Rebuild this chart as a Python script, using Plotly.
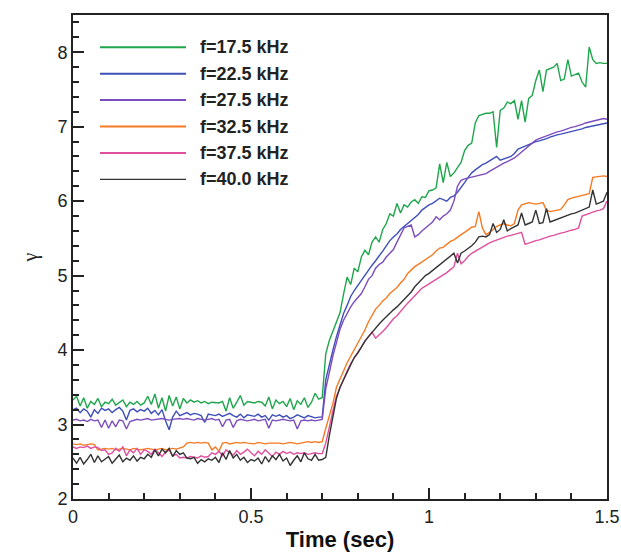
import numpy as np
import plotly.graph_objects as go

# time grid 0.00 .. 1.50 s (step 0.01)
time_s = [round(i * 0.01, 2) for i in range(151)]

names = ["f=17.5 kHz", "f=22.5 kHz", "f=27.5 kHz", "f=32.5 kHz", "f=37.5 kHz", "f=40.0 kHz"]
colors = ["#1fa64c", "#3e4fb8", "#7b4cbc", "#f57a22", "#df4f9e", "#333333"]

g_175 = [
    3.33, 3.38, 3.25, 3.36, 3.22, 3.31, 3.27, 3.35, 3.24, 3.30,
    3.28, 3.34, 3.26, 3.29, 3.33, 3.24, 3.30, 3.27, 3.31, 3.26,
    3.29, 3.38, 3.27, 3.41, 3.22, 3.36, 3.18, 3.39, 3.25, 3.37,
    3.21, 3.35, 3.29, 3.33, 3.30, 3.32, 3.29, 3.31, 3.28, 3.30,
    3.30, 3.29, 3.31, 3.18, 3.36, 3.22, 3.30, 3.39, 3.26, 3.31,
    3.30, 3.29, 3.31, 3.30, 3.25, 3.37, 3.21, 3.33, 3.28, 3.31,
    3.24, 3.35, 3.20, 3.32, 3.27, 3.36, 3.23, 3.30, 3.42, 3.34,
    3.36, 3.95, 4.13, 4.25, 4.38, 4.50, 4.75, 4.98, 4.88, 5.10,
    5.05, 5.25, 5.34, 5.28, 5.45, 5.52, 5.45, 5.62, 5.70, 5.83,
    5.80, 5.97, 5.84, 5.95, 5.92, 5.99, 6.02, 5.97, 6.06, 6.05,
    6.14, 6.15, 6.18, 6.50, 6.25, 6.52, 6.33, 6.38, 6.45, 6.52,
    6.68, 6.75, 6.78, 7.05, 7.15, 7.17, 7.18, 7.18, 7.20, 6.72,
    7.22, 7.25, 7.33, 7.31, 7.35, 7.10, 7.35, 7.06, 7.38, 7.42,
    7.62, 7.76, 7.47, 7.76, 7.78, 7.80, 7.85, 7.62, 7.64, 7.90,
    7.68, 7.70, 7.72, 7.60, 7.53, 8.07, 7.90, 7.85, 7.86, 7.85,
    7.85,
]

g_225 = [
    3.20, 3.22, 3.16, 3.21, 3.18, 3.10, 3.20, 3.15, 3.22, 3.19,
    3.21, 3.16, 3.20, 3.23, 3.18, 3.06, 3.19, 3.21, 3.17, 3.20,
    3.18, 3.22, 3.15, 3.19, 3.13, 3.20, 3.05, 2.93, 3.10, 3.18,
    3.12, 3.14, 3.16, 3.13, 3.15, 3.14, 3.12, 3.03, 3.14, 3.13,
    3.12, 3.14, 3.11, 3.13, 3.15, 3.12, 3.10, 3.14, 3.09, 3.13,
    3.12, 3.11, 3.14, 3.10, 3.12, 3.06, 3.13, 3.11, 3.13, 3.10,
    3.12, 3.08, 3.10, 3.13, 3.11, 3.09, 3.12, 3.10, 3.09, 3.10,
    3.10, 3.60, 3.82, 4.00, 4.18, 4.35, 4.49, 4.60, 4.72, 4.80,
    4.87, 4.94, 5.00, 5.08, 5.14, 5.20, 5.26, 5.33, 5.40, 5.47,
    5.52, 5.56, 5.62, 5.66, 5.71, 5.75, 5.79, 5.82, 5.88, 5.92,
    5.95, 5.97, 6.01, 6.04, 6.02, 6.00, 6.05, 6.07, 6.12, 6.18,
    6.25, 6.32, 6.38, 6.42, 6.46, 6.49, 6.51, 6.54, 6.57, 6.60,
    6.55, 6.57, 6.58, 6.60, 6.64, 6.70, 6.72, 6.74, 6.77, 6.79,
    6.80, 6.81, 6.82, 6.84, 6.86, 6.88, 6.89, 6.90, 6.91, 6.93,
    6.94, 6.95, 6.96, 6.97, 6.99, 7.00, 7.01, 7.02, 7.03, 7.04,
    7.05,
]

g_275 = [
    3.06, 3.07, 3.05, 3.06, 3.04, 3.07, 3.05, 3.06, 2.96, 3.06,
    2.95, 3.05, 2.97, 3.06, 3.05, 2.94, 3.04, 3.06, 3.07, 3.06,
    3.07, 3.08, 3.06, 3.07, 3.07, 3.08, 3.07, 3.06, 3.07, 3.08,
    3.08, 3.07, 3.08, 3.07, 3.06, 3.08, 3.07, 3.06, 3.07, 3.08,
    3.06, 3.07, 2.97, 3.06, 3.07, 2.96, 3.05, 3.07, 3.06, 3.05,
    3.06, 3.07, 3.05, 3.06, 3.07, 2.95, 3.06, 3.05, 3.06, 3.07,
    3.06, 3.05, 3.06, 2.94, 3.05, 3.06, 3.05, 3.06, 3.05, 3.06,
    3.07, 3.48, 3.72, 3.92, 4.10, 4.28, 4.40, 4.50, 4.58, 4.65,
    4.70, 4.76, 4.85, 4.95, 5.00, 5.10, 5.15, 5.18, 5.25, 5.30,
    5.35, 5.45, 5.55, 5.64, 5.66, 5.68, 5.52, 5.55, 5.60, 5.64,
    5.68, 5.72, 5.79, 5.75, 5.80, 5.83, 5.88, 6.00, 6.20, 6.28,
    6.30, 6.31, 6.33, 6.34, 6.35, 6.36, 6.37, 6.40, 6.43, 6.46,
    6.49, 6.51, 6.53, 6.55, 6.58, 6.62, 6.66, 6.70, 6.74, 6.79,
    6.82, 6.84, 6.86, 6.88, 6.90, 6.92, 6.93, 6.94, 6.96, 6.98,
    6.99, 7.00, 7.01, 7.03, 7.05, 7.06, 7.07, 7.08, 7.10, 7.11,
    7.10,
]

g_325 = [
    2.74, 2.73, 2.74, 2.72, 2.73, 2.74, 2.73, 2.66, 2.67, 2.68,
    2.67, 2.68, 2.66, 2.67, 2.68, 2.67, 2.66, 2.68, 2.67, 2.66,
    2.67, 2.68, 2.67, 2.66, 2.67, 2.68, 2.66, 2.67, 2.68, 2.67,
    2.68, 2.70, 2.75, 2.76, 2.75, 2.76, 2.75, 2.76, 2.75, 2.66,
    2.70, 2.64, 2.75, 2.76, 2.74, 2.75, 2.76, 2.75, 2.76, 2.75,
    2.75, 2.74, 2.76, 2.75, 2.74, 2.75, 2.75, 2.76, 2.75, 2.74,
    2.75, 2.76, 2.75, 2.74, 2.75, 2.76, 2.77, 2.76, 2.77, 2.76,
    2.77, 2.95, 3.12, 3.28, 3.50, 3.62, 3.72, 3.83, 3.92, 4.00,
    4.08, 4.18, 4.27, 4.38, 4.47, 4.55, 4.60, 4.66, 4.70, 4.76,
    4.80, 4.84, 4.90, 4.95, 5.03, 5.08, 5.12, 5.15, 5.18, 5.21,
    5.24, 5.28, 5.33, 5.37, 5.38, 5.42, 5.46, 5.48, 5.52, 5.55,
    5.58, 5.62, 5.65, 5.66, 5.86, 5.64, 5.55, 5.58, 5.62, 5.66,
    5.68, 5.70, 5.68, 5.67, 5.70, 5.88, 5.95, 5.97, 5.98, 5.97,
    5.96, 5.97, 5.98, 5.88, 5.86, 5.87, 5.88, 5.89, 5.95, 6.02,
    6.04, 6.05, 6.06, 6.07, 6.08, 6.10, 6.32, 6.33, 6.33, 6.34,
    6.33,
]

g_375 = [
    2.70, 2.68, 2.70, 2.69, 2.71, 2.68, 2.70, 2.69, 2.65, 2.66,
    2.60, 2.62, 2.68, 2.64, 2.70, 2.58, 2.66, 2.62, 2.68, 2.60,
    2.66, 2.64, 2.60, 2.67, 2.62, 2.57, 2.63, 2.66, 2.58, 2.60,
    2.55, 2.56, 2.55, 2.57, 2.56, 2.55, 2.58, 2.56, 2.57, 2.62,
    2.60, 2.64, 2.58, 2.66, 2.62, 2.59, 2.65, 2.60, 2.63, 2.67,
    2.62, 2.58, 2.64, 2.60, 2.66, 2.61, 2.57, 2.63, 2.60, 2.64,
    2.61, 2.63, 2.60, 2.62, 2.61, 2.62, 2.60, 2.61, 2.62, 2.61,
    2.61, 2.75, 2.98, 3.18, 3.38, 3.50, 3.60, 3.72, 3.82, 3.90,
    3.97, 4.04, 4.12, 4.18, 4.24, 4.16, 4.20, 4.25, 4.30, 4.36,
    4.42, 4.46, 4.52, 4.58, 4.63, 4.68, 4.73, 4.78, 4.83, 4.86,
    4.89, 4.92, 4.95, 4.97, 5.00, 5.04, 5.08, 5.12, 5.30, 5.16,
    5.20, 5.26, 5.30, 5.33, 5.36, 5.39, 5.42, 5.44, 5.46, 5.48,
    5.50, 5.52, 5.53, 5.54, 5.55, 5.56, 5.58, 5.42, 5.44, 5.45,
    5.47, 5.48, 5.50, 5.51, 5.53, 5.54, 5.56, 5.57, 5.58, 5.60,
    5.61, 5.62, 5.64, 5.80, 5.82, 5.84, 5.86, 5.87, 5.88, 5.90,
    6.00,
]

g_400 = [
    2.55, 2.48, 2.56, 2.47, 2.53, 2.60, 2.49, 2.58, 2.50, 2.54,
    2.57, 2.48, 2.53, 2.59, 2.50, 2.55, 2.52, 2.58, 2.51, 2.56,
    2.54, 2.60, 2.56, 2.66, 2.58, 2.67, 2.62, 2.68, 2.57, 2.65,
    2.60, 2.62, 2.55, 2.54, 2.56, 2.48, 2.53, 2.50, 2.54, 2.52,
    2.56, 2.49, 2.62, 2.53, 2.65, 2.55, 2.60, 2.52, 2.56, 2.49,
    2.53, 2.51, 2.55, 2.47, 2.57, 2.50, 2.58, 2.53, 2.60, 2.51,
    2.55, 2.45, 2.52, 2.58, 2.50, 2.62, 2.54, 2.52, 2.60, 2.52,
    2.53, 2.56, 2.85, 3.10, 3.35, 3.50, 3.60, 3.72, 3.82, 3.90,
    3.96, 4.04, 4.12, 4.18, 4.24, 4.30, 4.35, 4.40, 4.45, 4.50,
    4.54, 4.58, 4.63, 4.68, 4.73, 4.78, 4.85, 4.90, 4.95, 5.00,
    5.03, 5.07, 5.11, 5.14, 5.18, 5.22, 5.26, 5.30, 5.17, 5.30,
    5.33, 5.36, 5.40, 5.45, 5.52, 5.53, 5.52, 5.55, 5.70, 5.58,
    5.62, 5.75, 5.60, 5.63, 5.66, 5.68, 5.84, 5.68, 5.70, 5.72,
    5.88, 5.70, 5.71, 5.90, 5.72, 5.74, 5.76, 5.78, 5.80, 5.82,
    5.83, 5.84, 5.86, 5.88, 5.90, 5.92, 6.15, 5.96, 5.98, 6.00,
    6.12,
]

series = [g_175, g_225, g_275, g_325, g_375, g_400]

x_ticks = [0, 0.5, 1, 1.5]
x_tick_text = ["0", "0.5", "1", "1.5"]
y_ticks = [2, 3, 4, 5, 6, 7, 8]
y_tick_text = ["2", "3", "4", "5", "6", "7", "8"]

FONT = "Liberation Sans, Arial, Helvetica, sans-serif"

fig = go.Figure()
for name, col, vals in zip(names, colors, series):
    fig.add_trace(go.Scatter(
        x=time_s, y=vals, mode="lines", name=name,
        line=dict(color=col, width=1.4), showlegend=False,
    ))

# legend drawn inside plot (long sample lines like the original)
PLOT_L, PLOT_R, PLOT_T, PLOT_B = 73, 607, 15, 499
def px_to_paper_x(px):
    return (px - PLOT_L) / (PLOT_R - PLOT_L)
def px_to_paper_y(py):
    return (PLOT_B - py) / (PLOT_B - PLOT_T)

shapes = []
annotations = []
for i, (name, col) in enumerate(zip(names, colors)):
    py = 47.3 + i * 26.4
    yp = px_to_paper_y(py)
    shapes.append(dict(type="line", xref="paper", yref="paper",
                       x0=px_to_paper_x(100), x1=px_to_paper_x(186), y0=yp, y1=yp,
                       line=dict(color=col, width=2 if i < 5 else 1.3)))
    annotations.append(dict(xref="paper", yref="paper", x=px_to_paper_x(198), y=yp,
                            text="<b>" + name + "</b>", showarrow=False, xanchor="left", yanchor="middle",
                            font=dict(family=FONT, size=18, color="#222222")))

axis_common = dict(
    showline=True, linecolor="#222222", linewidth=2, mirror=True,
    ticks="inside", tickcolor="#222222", tickwidth=2, ticklen=11,
    showgrid=False, zeroline=False, automargin=False,
    tickfont=dict(family=FONT, size=18, color="#222222"),
)

fig.update_xaxes(
    range=[0, 1.5], tickvals=x_ticks, ticktext=x_tick_text,
    minor=dict(ticks="inside", dtick=0.1, ticklen=6, tickwidth=1.5, tickcolor="#222222", showgrid=False),
    title=dict(text="<b>Time (sec)</b>", font=dict(family=FONT, size=22, color="#111111"), standoff=8),
    **axis_common,
)
fig.update_yaxes(
    range=[2, 8.5], tickvals=y_ticks, ticktext=y_tick_text,
    minor=dict(ticks="inside", dtick=0.2, ticklen=6, tickwidth=1.5, tickcolor="#222222", showgrid=False),
    title=dict(text="γ", font=dict(family="Liberation Serif, DejaVu Serif, serif", size=20, color="#222222"), standoff=14),
    **axis_common,
)

fig.update_layout(
    width=621, height=552,
    margin=dict(l=PLOT_L, r=621 - PLOT_R, t=PLOT_T, b=552 - PLOT_B),
    paper_bgcolor="white", plot_bgcolor="white",
    shapes=shapes, annotations=annotations,
    font=dict(family=FONT),
)

fig.write_html("out.html")
